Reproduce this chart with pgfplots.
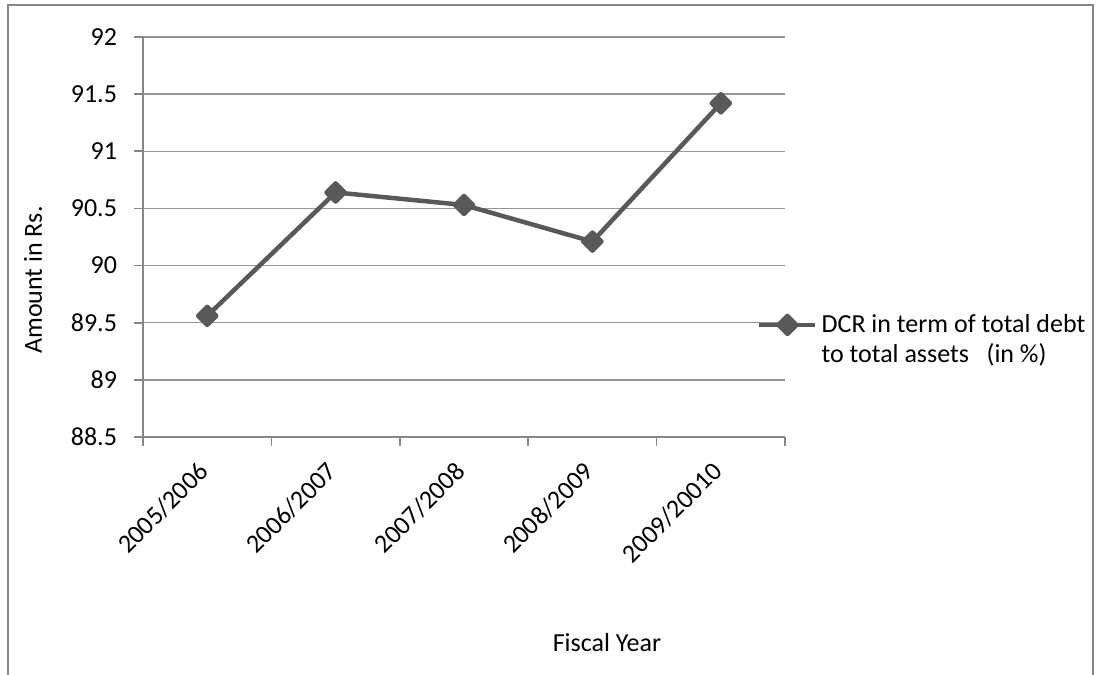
\documentclass[border=0pt]{standalone}
\usepackage{pgfplots}
\pgfplotsset{compat=1.18}
\usepackage{fontspec}
\setmainfont{Carlito}

\definecolor{serieGray}{RGB}{89,89,89}
\definecolor{axisGray}{RGB}{134,134,134}
\definecolor{gridGray}{RGB}{150,150,150}

\begin{document}
\begin{tikzpicture}[x=1bp,y=1bp]
\useasboundingbox (0,0) rectangle (548,337);
% chart area frame (open at the bottom)
\draw[axisGray, line width=0.9bp] (4,-5) -- (4,334.5) -- (546.5,334.5) -- (546.5,-5);
\begin{axis}[
  at={(71.5bp,118.5bp)}, anchor=south west,
  scale only axis, width=321bp, height=200bp,
  clip=false,
  xmin=-0.5, xmax=4.5, ymin=88.5, ymax=92,
  axis lines=left,
  axis line style={-, draw=axisGray, line width=0.8bp},
  tick align=outside,
  major tick length=4.5bp,
  minor tick length=4.5bp,
  xtick={0,1,2,3,4},
  xticklabels={2005/2006,2006/2007,2007/2008,2008/2009,2009/20010},
  minor xtick={-0.5,0.5,1.5,2.5,3.5,4.5},
  major x tick style={draw=none},
  minor x tick style={draw=axisGray, line width=0.8bp},
  ytick={88.5,89,89.5,90,90.5,91,91.5,92},
  ytick style={draw=axisGray, line width=0.8bp},
  ymajorgrids,
  major grid style={draw=gridGray, line width=0.75bp},
  /pgf/number format/assume math mode=true,
  every tick label/.append style={font=\fontsize{13bp}{15bp}\selectfont, text=black},
  xticklabel style={xshift=-5.1bp, yshift=-6.9bp, rotate=45, anchor=north east, inner sep=0pt},
  yticklabel style={anchor=east, xshift=-5bp},
  xlabel={Fiscal Year},
  ylabel={Amount in Rs.},
  label style={font=\fontsize{13bp}{15bp}\selectfont, text=black},
  xlabel style={at={(axis description cs:0.7227,-0.515)}, anchor=center},
  ylabel style={at={(axis description cs:-0.1713,0.3925)}, anchor=center},
  legend image code/.code={\draw[mark repeat=2, mark phase=2, #1] plot coordinates {(0bp,0bp) (14bp,0bp) (28bp,0bp)};},
  legend style={draw=none, fill=none, at={(axis description cs:0.956,0.3175)}, anchor=north west,
    font=\fontsize{13bp}{15bp}\selectfont, inner sep=0pt, row sep=0pt,
    nodes={inner xsep=2bp},
    cells={anchor=west}},
]
\addplot[color=serieGray, line width=2.25bp, line join=round,
  mark=square*, mark size=3.2bp, mark options={rotate=45, solid}]
  coordinates {(0,89.56) (1,90.64) (2,90.53) (3,90.21) (4,91.42)};
\addlegendentry{DCR in term of total debt}
\addlegendimage{empty legend}
\addlegendentry{to total assets\ \ \ (in \%)}
\end{axis}
\end{tikzpicture}
\end{document}
